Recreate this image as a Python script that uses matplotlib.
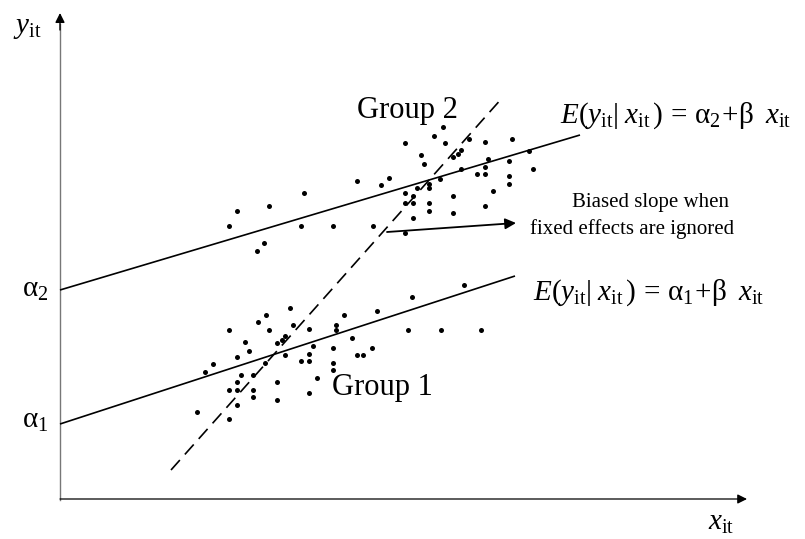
import numpy as np
import matplotlib
matplotlib.use("Agg")
import matplotlib.pyplot as plt

plt.rcParams["font.family"] = "Liberation Serif"
plt.rcParams["mathtext.fontset"] = "custom"
plt.rcParams["mathtext.rm"] = "Liberation Serif"
plt.rcParams["mathtext.it"] = "Liberation Serif:italic"

# -----------------------------------------------------------------------------
# Dados (origem no cruzamento dos eixos)
# -----------------------------------------------------------------------------
g2_x = [297, 244, 209, 177, 169, 241, 273, 313, 204, 197,
        383, 374, 345, 385, 409, 425, 452, 361, 401, 398,
        393, 469, 364, 428, 449, 425, 401, 473, 329, 380,
        417, 425, 449, 449, 321, 369, 369, 357, 345, 353,
        433, 393, 345, 353, 369, 369, 425, 393, 353, 345]
g2_y = [319, 307, 294, 289, 274, 274, 274, 274, 257, 249,
        373, 364, 357, 357, 361, 358, 361, 345, 350, 346,
        343, 349, 336, 341, 339, 333, 331, 331, 322, 321,
        326, 326, 324, 316, 315, 316, 312, 312, 307, 304,
        309, 304, 297, 297, 297, 289, 294, 287, 282, 267]

g1_x = [230, 206, 198, 169, 209, 233, 249, 185, 225, 222,
        217, 189, 177, 225, 253, 249, 241, 249, 153, 205,
        145, 181, 193, 177, 217, 169, 177, 193, 193, 257,
        249, 217, 177, 137, 169,
        404, 352, 317, 284, 276, 276, 348, 381, 421, 292,
        273, 312, 297, 303, 273, 273]
g1_y = [192, 185, 178, 170, 170, 175, 171, 158, 164, 160,
        157, 149, 143, 145, 154, 146, 139, 139, 136, 137,
        128, 125, 125, 118, 118, 110, 110, 110, 103, 122,
        107, 100, 95, 88, 81,
        215, 203, 189, 185, 175, 170, 170, 170, 170, 162,
        152, 152, 145, 145, 137, 130]

# retas de efeitos fixos: intercepto e ponto final
alfa = [76, 210]
x_fim = [455, 520]
y_fim = [224, 365]

# reta enviesada (ignora efeitos fixos)
x_vies = [111, 443]
y_vies = [30, 403]

# -----------------------------------------------------------------------------
# Figura
# -----------------------------------------------------------------------------
fig = plt.figure(figsize=(8.05, 5.39), dpi=100)
ax = fig.add_axes([0, 0, 1, 1])
ax.set_xlim(-60, 745)
ax.set_ylim(-39, 500)
ax.axis("off")

# eixos com setas
ax.plot([0, 0], [0, 476], color="#777777", lw=1.0)
ax.annotate("", xy=(0, 487), xytext=(0, 470),
            arrowprops=dict(arrowstyle="-|>", color="black", lw=1.0,
                            mutation_scale=14, shrinkA=0, shrinkB=0))
ax.annotate("", xy=(687, 1), xytext=(0, 1),
            arrowprops=dict(arrowstyle="-|>", color="black", lw=0.9,
                            mutation_scale=14, shrinkA=0, shrinkB=0))

# pontos
ax.plot(g2_x, g2_y, "o", color="black", ms=3.6, mec="none")
ax.plot(g1_x, g1_y, "o", color="black", ms=3.6, mec="none")

# retas
for a, xf, yf in zip(alfa, x_fim, y_fim):
    ax.plot([0, xf], [a, yf], color="black", lw=1.2, solid_capstyle="butt")

ax.plot(x_vies, y_vies, color="black", lw=1.2, dashes=(8, 4.5))

# seta do texto
ax.annotate("", xy=(456, 277), xytext=(327, 268),
            arrowprops=dict(arrowstyle="-|>", color="black", lw=1.3,
                            mutation_scale=16, shrinkA=0, shrinkB=0))

# textos
ax.text(-47, 467, r"$y_{\mathrm{it}}$", fontsize=21, ha="left", va="baseline")
ax.text(648, -30, r"$x_{\mathrm{it}}$", fontsize=21, ha="left", va="baseline")
ax.text(-38, 203, r"$\mathrm{\alpha}_2$", fontsize=21, ha="left", va="baseline")
ax.text(-38, 72, r"$\mathrm{\alpha}_1$", fontsize=21, ha="left", va="baseline")

ax.text(297, 382, "Group 2", fontsize=22, ha="left", va="baseline")
ax.text(272, 105, "Group 1", fontsize=22, ha="left", va="baseline")

eq = (r"$E(y_{\mathrm{it}}|\;x_{\mathrm{it}}\,)\,=\,\mathrm{\alpha}_%d"
      r"\!+\!\mathrm{\beta}\;\;x_{\mathrm{it}}$")
ax.text(500, 377, eq % 2, fontsize=21, ha="left", va="baseline")
ax.text(473, 200, eq % 1, fontsize=21, ha="left", va="baseline")

ax.text(590, 293, "Biased slope when", fontsize=15, ha="center", va="baseline")
ax.text(572, 266, "fixed effects are ignored", fontsize=15, ha="center", va="baseline")

fig.savefig("out.png", dpi=100)
